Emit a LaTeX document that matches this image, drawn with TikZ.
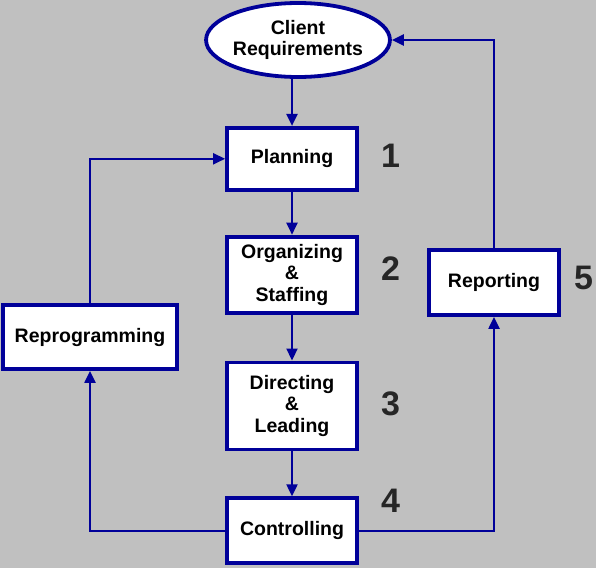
\documentclass[tikz,border=0pt]{standalone}
\usepackage{fontspec}
\setmainfont{Liberation Sans}
\usetikzlibrary{positioning, arrows.meta, shapes.geometric}
\definecolor{azul}{RGB}{0,0,153}
\definecolor{fundo}{RGB}{192,192,192}
\definecolor{numero}{RGB}{38,38,38}

\begin{document}
\begin{tikzpicture}[
			        block/.style={draw=azul, fill=white, line width=3.8pt, rectangle, minimum width=130pt, align=center, inner sep=2pt, font=\fontsize{19.5}{21.5}\selectfont\bfseries},
			        oval/.style={draw=azul, fill=white, line width=3.8pt, ellipse, minimum width=165pt, minimum height=74pt, inner sep=0pt, align=center, font=\fontsize{19.5}{21.5}\selectfont\bfseries},
			        num/.style={inner sep=0pt, text=numero, font=\fontsize{34}{34}\selectfont\bfseries},
			        line/.style={draw=azul, line width=2.2pt},
			        >={Triangle[length=12pt,width=11pt]}]
			        
			        % Fundo
			        \path[use as bounding box, fill=fundo] (0,0) rectangle (596pt,-568pt);
			        
			        % Nós do diagrama
			        \node (client) [oval] at (298pt,-40pt) {Client\\Requirements};
			        \node (plan) [block, minimum height=62pt, below=47pt of client, xshift=-6pt] {Planning};
			        \node (org) [block, minimum height=76pt, below=43pt of plan] {Organizing\\\&\\Staffing};
			        \node (dir) [block, minimum height=87pt, below=46pt of org] {Directing\\\&\\Leading};
			        \node (ctrl) [block, minimum height=65pt, below=45pt of dir] {Controlling};
			        \node (report) [block, minimum height=65pt] at (494pt,-282.5pt) {Reporting};
			        \node (reprog) [block, minimum width=174pt, minimum height=64pt] at (90pt,-337pt) {Reprogramming};
			        
			        % Números das etapas
			        \node (n1) [num, right=22pt of plan, yshift=3pt] {1};
			        \node (n2) [num, right=22pt of org, yshift=6pt] {2};
			        \node (n3) [num, right=22pt of dir, yshift=2pt] {3};
			        \node (n4) [num, right=22pt of ctrl, yshift=30pt] {4};
			        \node (n5) [num, right=13pt of report, yshift=5pt] {5};
			        
			        % Conexões
			        \draw[line, ->] (client.south -| plan) -- (plan);
			        \draw[line, ->] (plan) -- (org);
			        \draw[line, ->] (org) -- (dir);
			        \draw[line, ->] (dir) -- (ctrl);
			        
			        % Realimentação
			        \draw[line, ->] (ctrl) -| (report);
			        \draw[line, ->] (ctrl) -| (reprog);
			        \draw[line, ->] (reprog) |- (plan);
			        \draw[line, ->] (report) |- (client);
			
			    \end{tikzpicture}
\end{document}
